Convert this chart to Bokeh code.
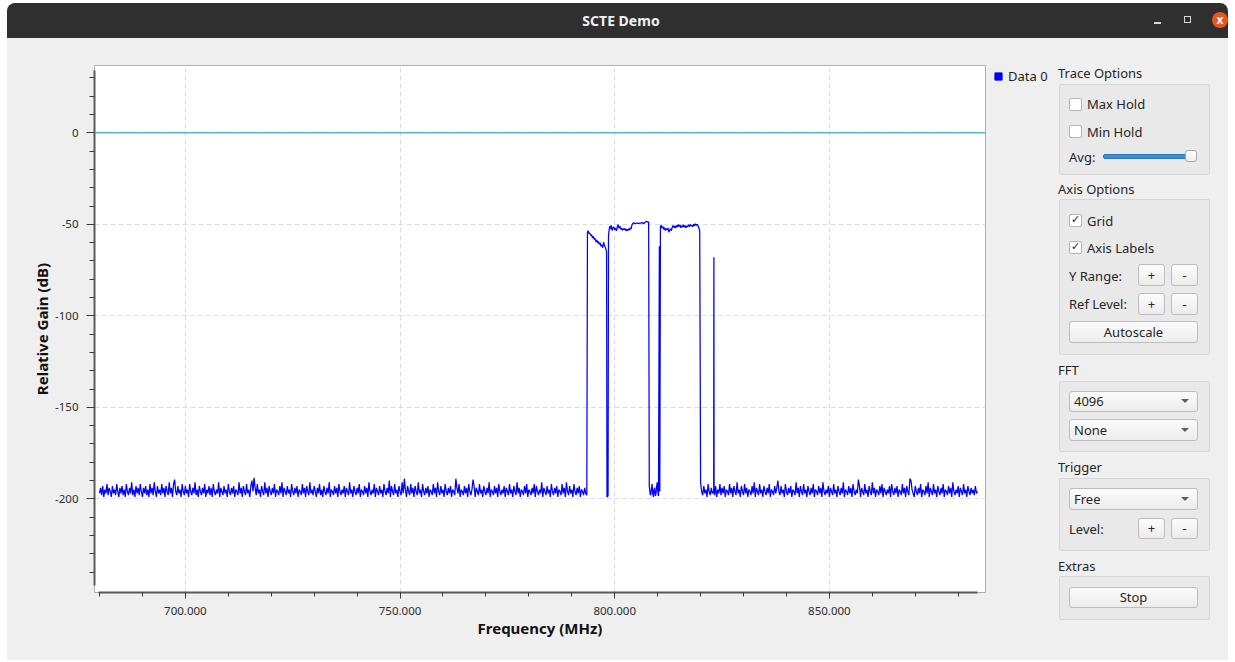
import numpy as np
from bokeh.plotting import figure
from bokeh.models import (Range1d, SingleIntervalTicker, PrintfTickFormatter, Span,
                          Legend, LegendItem, Div)
from bokeh.layouts import column, row
from bokeh.embed import file_html
from bokeh.resources import INLINE

# ---------------- data ----------------
window_title = "SCTE Demo"
series_name = "Data 0"
x_label = "Frequency (MHz)"
y_label = "Relative Gain (dB)"
ref_level_db = 0

# noise floor left of the channels: bins every 0.25 MHz starting at 680 MHz
noise_low_start = 680.0
noise_step = 0.25
noise_low = [
    -197, -194, -198, -193, -199, -195, -197, -192, -198, -194, -196, -199, -193, -197, -195, -198, -192, -196, -199, -194,
    -197, -193, -198, -195, -199, -192, -196, -198, -194, -197, -191, -198, -195, -199, -193, -197, -194, -198, -192, -196,
    -199, -194, -197, -193, -198, -195, -199, -192, -197, -194, -198, -191, -196, -199, -193, -197, -195, -198, -192, -197,
    -194, -199, -193, -196, -198, -191, -197, -194, -199, -192, -189.5, -196, -198, -193, -197, -195, -199, -192, -196, -198,
    -193, -197, -195, -199, -192, -196, -198, -194, -197, -191, -198, -195, -199, -193, -196, -198, -194, -197, -192, -199,
    -195, -197, -193, -198, -194, -199, -192, -196, -198, -195, -197, -191, -199, -194, -196, -198, -193, -197, -195, -199,
    -192, -196, -198, -194, -197, -193, -199, -195, -196, -198, -191, -197, -194, -199, -193, -196, -198, -192, -197, -195,
    -199, -193, -190, -196, -188.5, -194, -198, -192, -197, -195, -199, -193, -196, -198, -191, -197, -194, -199, -193, -196,
    -198, -194, -197, -192, -199, -195, -196, -198, -193, -197, -191, -199, -194, -196, -198, -193, -197, -195, -199, -192,
    -196, -198, -194, -197, -193, -199, -195, -196, -198, -192, -197, -194, -199, -193, -196, -198, -191, -197, -195, -198,
    -193, -196, -199, -194, -197, -192, -198, -195, -199, -193, -196, -198, -194, -197, -191, -199, -195, -196, -198, -193,
    -197, -194, -199, -192, -196, -198, -195, -197, -193, -199, -194, -196, -198, -191, -197, -195, -199, -193, -196, -198,
    -194, -197, -192, -199, -195, -196, -198, -193, -197, -194, -199, -191, -196, -198, -195, -197, -192, -199, -194, -196,
    -198, -193, -197, -195, -199, -192, -196, -198, -194, -197, -190, -199, -193, -196, -198, -192, -197, -195, -199, -193,
    -196, -198, -191, -197, -189, -195, -199, -193, -196, -198, -192, -197, -194, -199, -193, -196, -198, -191, -197, -195,
    -199, -192, -196, -198, -194, -197, -193, -199, -195, -196, -198, -192, -197, -194, -199, -191, -196, -198, -193, -197,
    -195, -199, -192, -196, -198, -194, -197, -193, -199, -195, -196, -198, -189, -194, -197, -192, -199, -195, -196, -198,
    -193, -197, -194, -199, -192, -196, -198, -195, -189.5, -193, -199, -194, -196, -198, -192, -197, -195, -199, -193, -196,
    -198, -194, -197, -191, -199, -195, -196, -198, -193, -197, -194, -199, -192, -196, -198, -195, -197, -193, -199, -194,
    -196, -198, -192, -197, -195, -199, -193, -196, -198, -191, -197, -194, -199, -195, -196, -198, -193, -197, -192, -199,
    -195, -196, -198, -194, -197, -192, -199, -193, -196, -198, -195, -197, -191, -199, -194, -196, -198, -193, -197, -195,
    -199, -192, -196, -198, -194, -197, -193, -199, -195, -196, -198, -192, -197, -194, -199, -191, -196, -198, -193, -197,
    -195, -199, -192, -196, -198, -194, -197, -193, -199, -195, -196, -198, -194, -197, -198,
]

# noise floor right of the channels: bins every 0.25 MHz starting at 820 MHz
noise_high_start = 820.0
noise_high = [
    -191, -196, -198, -193, -197, -195, -199, -192, -196, -198, -194, -197, -196, -198, -193, -199, -195, -197, -192, -198,
    -194, -197, -193, -199, -195, -196, -198, -192, -197, -194, -199, -193, -196, -198, -191, -197, -195, -199, -193, -196,
    -198, -192, -197, -194, -199, -195, -196, -198, -193, -197, -191, -199, -194, -196, -198, -192, -197, -195, -199, -193,
    -196, -198, -194, -197, -192, -199, -195, -196, -198, -193, -197, -194, -190, -196, -198, -193, -197, -195, -199, -192,
    -196, -198, -194, -197, -193, -199, -195, -196, -198, -191, -197, -194, -199, -193, -196, -198, -192, -197, -195, -199,
    -193, -196, -198, -194, -197, -192, -199, -195, -196, -198, -193, -197, -194, -199, -191, -196, -198, -195, -197, -193,
    -199, -194, -196, -198, -192, -197, -195, -199, -193, -196, -198, -194, -197, -191, -199, -195, -196, -198, -193, -197,
    -194, -199, -192, -196, -198, -195, -197, -189.5, -193, -199, -194, -196, -198, -192, -197, -195, -199, -193, -196, -198,
    -191, -197, -194, -199, -195, -196, -198, -193, -197, -192, -199, -194, -196, -198, -195, -197, -193, -199, -192, -196,
    -198, -194, -197, -193, -199, -195, -196, -198, -192, -197, -194, -199, -193, -196, -198, -189, -190, -195, -197, -199,
    -193, -196, -198, -194, -197, -192, -199, -195, -196, -198, -193, -197, -191, -199, -194, -196, -198, -192, -197, -195,
    -199, -193, -196, -198, -194, -197, -192, -199, -195, -196, -198, -193, -197, -194, -199, -191, -196, -198, -195, -197,
    -193, -199, -194, -196, -198, -192, -197, -195, -199, -193, -196, -198, -194, -197, -195, -198, -193, -197, -196,
]

# occupied channels, gap noise and the narrow carrier: (MHz, dB)
band_freq = [
    # channel 1 (sloping top)
    793.65, 793.8, 794.0, 794.2, 794.4, 794.6, 794.8, 795.0, 795.2, 795.4, 795.6, 795.8,
    796.0, 796.2, 796.4, 796.6, 796.8, 797.0, 797.2, 797.4, 797.6, 797.8, 798.0, 798.1,
    # narrow notch
    798.2, 798.45,
    # channel 2
    798.55, 798.7, 798.85, 799.0, 799.2, 799.4, 799.6, 799.8, 800.0, 800.2, 800.4, 800.6,
    800.8, 801.0, 801.2, 801.4, 801.6, 801.8, 802.0, 802.2, 802.4, 802.6, 802.8, 803.0,
    803.2, 803.4, 803.6, 803.8, 804.0, 804.2, 804.4, 804.8, 805.2, 805.6, 806.0, 806.4,
    806.8, 807.2, 807.5, 807.7, 807.9,
    # gap between channels
    808.05, 808.25, 808.4, 808.55, 808.7, 808.85, 809.0, 809.15, 809.3, 809.45, 809.6,
    809.75, 809.9, 810.05, 810.2,
    810.4, 810.5,
    # channel 3
    810.65, 810.8, 811.0, 811.2, 811.4, 811.6, 811.8, 812.0, 812.2, 812.4, 812.6, 812.8,
    813.0, 813.2, 813.4, 813.6, 813.8, 814.0, 814.2, 814.4, 814.6, 814.8, 815.0, 815.2,
    815.4, 815.6, 815.8, 816.0, 816.2, 816.4, 816.6, 816.8, 817.0, 817.2, 817.4, 817.6,
    817.8, 818.0, 818.2, 818.4, 818.6, 818.8, 819.0, 819.2, 819.4, 819.6, 819.8,
    # narrow carrier
    823.05, 823.1, 823.15,
]
band_gain = [
    -54.3, -53.5, -55.0, -54.8, -56.2, -55.6, -57.4, -56.5, -58.2, -57.6, -59.5, -58.6,
    -60.2, -59.4, -61.0, -60.1, -62.0, -61.2, -62.8, -59.8, -61.5, -62.6, -64.0, -65.2,
    -199.0, -198.5,
    -56.7, -53.0, -51.0, -52.5, -50.6, -53.4, -52.0, -51.4, -53.0, -52.2, -53.6, -51.5,
    -50.2, -52.2, -51.0, -52.8, -52.0, -53.2, -52.4, -53.0, -52.2, -53.6, -52.8, -53.4,
    -52.5, -53.2, -52.0, -52.6, -50.5, -49.6, -49.2, -49.6, -49.3, -49.5, -49.4, -49.1,
    -49.6, -48.6, -48.4, -48.9, -48.6,
    -193.0, -197.5, -198.0, -194.5, -192.0, -197.0, -199.0, -195.0, -194.0, -198.5, -197.5,
    -193.5, -191.0, -196.5, -198.5,
    -62.0, -196.0,
    -51.6, -50.4, -52.0, -51.2, -52.8, -51.8, -53.4, -52.3, -53.0, -52.0, -54.3, -53.2,
    -52.4, -53.5, -51.6, -50.7, -51.8, -50.9, -52.0, -50.6, -51.5, -50.1, -51.2, -50.4,
    -51.9, -50.8, -51.5, -50.2, -51.6, -50.6, -51.9, -50.9, -51.4, -50.3, -51.2, -50.1,
    -51.0, -50.4, -51.3, -49.9, -50.8, -49.7, -50.6, -50.0, -51.0, -51.8, -53.8,
    -197.0, -68.0, -196.5,
]

freq = ([noise_low_start + noise_step * i for i in range(len(noise_low))]
        + band_freq
        + [noise_high_start + noise_step * i for i in range(len(noise_high))])
gain = noise_low + band_gain + noise_high
order = np.argsort(np.array(freq), kind="stable")
freq = [float(v) for v in np.array(freq)[order]]
gain = [float(v) for v in np.array(gain, dtype=float)[order]]

# ---------------- main figure ----------------
FONT = "Noto Sans"
BG = "#efefef"
p = figure(width=980, height=622, output_backend="svg", toolbar_location=None,
           x_range=Range1d(678.835, 886.36), y_range=Range1d(-251.2, 36.78),
           min_border_left=87, min_border_right=2, min_border_top=27, min_border_bottom=68,
           background_fill_color="white", border_fill_color=BG,
           outline_line_color="#b0b0b0", outline_line_width=1,
           styles={"background-color": BG})

for g in (p.xgrid, p.ygrid):
    g.grid_line_color = "#dcdcdc"
    g.grid_line_dash = "5 3"
    g.grid_line_width = 1

p.add_layout(Span(location=ref_level_db, dimension="width", line_color="#1591a8", line_width=1))
p.add_layout(Span(location=ref_level_db, dimension="width", line_color="#3ad6d6",
                  line_width=1, line_dash="1 2"))

trace = p.line(freq, gain, line_color="#0000ff", line_width=1.25)

p.xaxis.ticker = SingleIntervalTicker(interval=50, num_minor_ticks=5)
p.yaxis.ticker = SingleIntervalTicker(interval=50, num_minor_ticks=5)
p.xaxis.formatter = PrintfTickFormatter(format="%.3f")
p.yaxis.formatter = PrintfTickFormatter(format="%d")
p.xaxis.bounds = (679.85, 884.6)
p.yaxis.bounds = (-247.4, 34.0)
p.xaxis.axis_label = x_label
p.yaxis.axis_label = y_label

for ax in (p.xaxis, p.yaxis):
    ax.axis_line_color = "#5a5a5a"
    ax.axis_line_width = 2
    ax.major_tick_line_color = "#3c3c3c"
    ax.minor_tick_line_color = "#3c3c3c"
    ax.major_tick_in = 0
    ax.minor_tick_in = 0
    ax.major_label_text_font = FONT
    ax.major_label_text_font_size = "11.5px"
    ax.major_label_text_color = "#2e2e2e"
    ax.axis_label_text_font = FONT
    ax.axis_label_text_font_style = "bold"
    ax.axis_label_text_font_size = "15px"
    ax.axis_label_text_color = "#111111"

p.yaxis.major_tick_out = 8
p.yaxis.minor_tick_out = 5
p.yaxis.major_label_standoff = 8
p.yaxis.axis_label_standoff = 0
p.xaxis.major_tick_out = 6
p.xaxis.minor_tick_out = 4
p.xaxis.major_label_standoff = 8
p.xaxis.axis_label_standoff = 0

# ---------------- legend strip (own small canvas, right of the plot) ----------------
lg = figure(width=65, height=622, output_backend="svg", toolbar_location=None,
            x_axis_type=None, y_axis_type=None, x_range=Range1d(0, 1), y_range=Range1d(0, 1),
            min_border_left=0, min_border_right=0, min_border_top=0, min_border_bottom=0,
            background_fill_color=BG, border_fill_color=BG, outline_line_color=None,
            styles={"background-color": BG})
lg.xgrid.visible = False
lg.ygrid.visible = False
legend_glyph = lg.scatter(x=[0.5], y=[0.5], size=0, marker="square",
                          fill_color="#0000ff", line_color="#0000ff")
legend = Legend(items=[LegendItem(label=series_name, renderers=[legend_glyph])],
                location="top_left", padding=0, margin=2, spacing=0,
                border_line_color=None, background_fill_alpha=0,
                glyph_width=18, glyph_height=18, label_standoff=1, label_height=18,
                label_text_font=FONT, label_text_font_size="13px", label_text_color="#1e1e1e")
lg.add_layout(legend)

# ---------------- window chrome (HTML) ----------------
title_html = (
    '<div style="position:relative;width:1235px;height:38px;background:#ffffff;'
    'font-family:\'Noto Sans\';overflow:hidden;">'
    '<div style="position:absolute;left:7px;top:3px;width:1221px;height:35px;background:#2f2f2f;'
    'border-radius:8px 8px 0 0;"></div>'
    f'<div style="position:absolute;left:621px;top:13px;transform:translateX(-50%);color:#f0f0f0;'
    f'font-weight:bold;font-size:14px;line-height:16px;white-space:nowrap;">{window_title}</div>'
    '<div style="position:absolute;left:1154px;top:22px;width:7px;height:2px;background:#d8d8d8;"></div>'
    '<div style="position:absolute;left:1184px;top:16px;width:7px;height:7px;border:1px solid #d8d8d8;"></div>'
    '<div style="position:absolute;left:1212px;top:12px;width:16px;height:16px;border-radius:50%;'
    'background:#e95420;color:#ffffff;font-size:12px;line-height:15px;text-align:center;font-weight:bold;">x</div>'
    '</div>'
)
title_div = Div(text=title_html, width=1235, height=38, margin=(0, 0, 0, 0))

OX, OY = 1052, 38


def ui_text(x, yc, txt):
    return (f'<div style="position:absolute;left:{x-OX}px;top:{yc-OY-9}px;line-height:18px;'
            f'font-size:13px;white-space:nowrap;">{txt}</div>')


def ui_box(x0, y0, x1, y1):
    return (f'<div style="position:absolute;box-sizing:border-box;left:{x0-OX}px;top:{y0-OY}px;'
            f'width:{x1-x0}px;height:{y1-y0}px;background:#e9e9e9;border:1px solid #d6d6d6;'
            f'border-radius:2px;"></div>')


def ui_button(x0, y0, x1, y1, txt):
    return (f'<div style="position:absolute;box-sizing:border-box;left:{x0-OX}px;top:{y0-OY}px;'
            f'width:{x1-x0}px;height:{y1-y0}px;background:linear-gradient(#fbfbfb,#ececec);'
            f'border:1px solid #bdbdbd;border-radius:3px;text-align:center;line-height:{y1-y0-2}px;'
            f'font-size:13px;">{txt}</div>')


def ui_combo(x0, y0, x1, y1, txt):
    h = y1 - y0
    return (f'<div style="position:absolute;box-sizing:border-box;left:{x0-OX}px;top:{y0-OY}px;'
            f'width:{x1-x0}px;height:{h}px;background:linear-gradient(#fbfbfb,#ececec);'
            f'border:1px solid #bdbdbd;border-radius:3px;line-height:{h-2}px;padding-left:4px;'
            f'font-size:13px;">{txt}'
            f'<div style="position:absolute;right:8px;top:{(h-2)//2-2}px;width:0;height:0;'
            f'border-left:4px solid transparent;border-right:4px solid transparent;'
            f'border-top:4px solid #606060;"></div></div>')


def ui_check(yc, txt, checked):
    mark = ('<div style="position:absolute;left:1px;top:-2px;font-family:\'DejaVu Sans\';'
            'font-size:11px;line-height:14px;color:#222;">&#10003;</div>') if checked else ''
    return (f'<div style="position:absolute;box-sizing:border-box;left:{1069-OX}px;top:{yc-OY-6.5}px;'
            f'width:13px;height:13px;background:#ffffff;border:1px solid #b4b4b4;border-radius:2px;">'
            f'{mark}</div>' + ui_text(1087, yc, txt))


parts = [
    ui_text(1058, 73, "Trace Options"),
    ui_box(1059, 84, 1210, 175),
    ui_check(104, "Max Hold", False),
    ui_check(131.5, "Min Hold", False),
    ui_text(1069, 156.5, "Avg:"),
    f'<div style="position:absolute;box-sizing:border-box;left:{1103-OX}px;top:{154-OY}px;width:90px;'
    f'height:5px;background:#3b8ed8;border:1px solid #2c75bd;border-radius:2px;"></div>',
    f'<div style="position:absolute;box-sizing:border-box;left:{1185-OX}px;top:{150-OY}px;width:12px;'
    f'height:12px;background:linear-gradient(#ffffff,#eeeeee);border:1px solid #a8a8a8;border-radius:3px;"></div>',
    ui_text(1058, 189, "Axis Options"),
    ui_box(1059, 199, 1210, 355),
    ui_check(220.5, "Grid", True),
    ui_check(247.5, "Axis Labels", True),
    ui_text(1069, 275.5, "Y Range:"),
    ui_button(1138, 264, 1165, 286, "+"),
    ui_button(1171, 264, 1198, 286, "-"),
    ui_text(1069, 304, "Ref Level:"),
    ui_button(1138, 293, 1165, 315, "+"),
    ui_button(1171, 293, 1198, 315, "-"),
    ui_button(1069, 321, 1198, 343, "Autoscale"),
    ui_text(1058, 370, "FFT"),
    ui_box(1059, 381, 1210, 452),
    ui_combo(1069, 391, 1198, 412, "4096"),
    ui_combo(1069, 419, 1198, 441, "None"),
    ui_text(1058, 467, "Trigger"),
    ui_box(1059, 478, 1210, 551),
    ui_combo(1069, 488, 1198, 510, "Free"),
    ui_text(1069, 529, "Level:"),
    ui_button(1138, 518, 1165, 539, "+"),
    ui_button(1171, 518, 1198, 539, "-"),
    ui_text(1058, 566, "Extras"),
    ui_box(1059, 576, 1210, 620),
    ui_button(1069, 587, 1198, 608, "Stop"),
]
panel_html = ('<div style="position:relative;width:176px;height:622px;background:#efefef;'
              'font-family:\'Noto Sans\';color:#262626;">' + "".join(parts) + '</div>')
panel_div = Div(text=panel_html, width=176, height=622, margin=(0, 0, 0, 0))

left_edge = Div(text='<div style="width:7px;height:622px;background:#ffffff;"></div>',
                width=7, height=622, margin=(0, 0, 0, 0))
right_edge = Div(text='<div style="width:7px;height:622px;background:#ffffff;"></div>',
                 width=7, height=622, margin=(0, 0, 0, 0))

layout = column(title_div, row(left_edge, p, lg, panel_div, right_edge, spacing=0), spacing=0)

open("out.html", "w").write(file_html(layout, INLINE, title=window_title))
